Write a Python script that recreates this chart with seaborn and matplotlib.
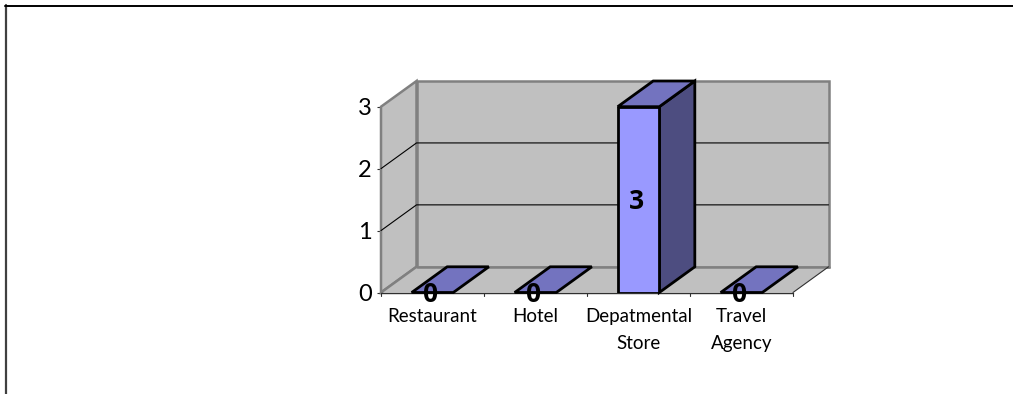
import matplotlib
matplotlib.use("Agg")
import matplotlib.pyplot as plt
from matplotlib.patches import Polygon
from matplotlib.lines import Line2D
import seaborn as sns
import pandas as pd

categories = ["Restaurant", "Hotel", "Depatmental\nStore", "Travel\nAgency"]
values = [0, 0, 3, 0]
y_ticks = [0, 1, 2, 3]

W, H = 1013, 394
sns.set_theme(style="white")
plt.rcParams["font.family"] = ["Lato", "DejaVu Sans"]

fig = plt.figure(figsize=(W / 100, H / 100), dpi=100)
fig.patch.set_facecolor("white")
L, R, B, T = 381, 793, 292.5, 106.7
ax = fig.add_axes([L / W, 1 - B / H, (R - L) / W, (B - T) / H])

df = pd.DataFrame({"category": categories, "value": values})
BAR_W = 0.404
sns.barplot(data=df, x="category", y="value", ax=ax, width=BAR_W, color="#9999FF",
            saturation=1, edgecolor="black", linewidth=2, zorder=5)
ax.set_xlim(-0.5, len(categories) - 0.5)
ax.set_ylim(0, 3)
ax.set_xlabel("")
ax.set_ylabel("")
ax.patch.set_alpha(0)
for s in ax.spines.values():
    s.set_visible(False)

# depth expressed in data units
DX = 35.5 / ((R - L) / 4)
DY = 25.7 / ((B - T) / 3)
x0, x1 = -0.5, len(categories) - 0.5
ymax = max(y_ticks)
WALL = "#C0C0C0"
EDGE = "#808080"

def poly(pts, fc, ec, lw, z):
    ax.add_patch(Polygon(pts, closed=True, facecolor=fc, edgecolor=ec, linewidth=lw,
                         zorder=z, clip_on=False, joinstyle="miter"))

# back wall, left wall, floor
poly([(x0 + DX, DY), (x1 + DX, DY), (x1 + DX, ymax + DY), (x0 + DX, ymax + DY)], WALL, EDGE, 1.8, 1)
poly([(x0, 0), (x0 + DX, DY), (x0 + DX, ymax + DY), (x0, ymax)], WALL, EDGE, 1.8, 1)
poly([(x0, 0), (x1, 0), (x1 + DX, DY), (x0 + DX, DY)], WALL, "none", 0, 1.5)
ax.add_line(Line2D([x0, x0 + DX], [0, DY], color=EDGE, lw=1.8, zorder=2, clip_on=False))
ax.add_line(Line2D([x0 + DX, x1 + DX], [DY, DY], color=EDGE, lw=1.8, zorder=2, clip_on=False))
ax.add_line(Line2D([x1, x1 + DX], [0, DY], color="#303030", lw=0.8, zorder=2, clip_on=False))
ax.add_line(Line2D([x0, x1], [0, 0], color="#303030", lw=1.0, zorder=2, clip_on=False))

# gridlines on walls
for t in y_ticks[1:-1]:
    ax.add_line(Line2D([x0, x0 + DX, x1 + DX], [t, t + DY, t + DY], color="black", lw=0.8,
                       zorder=2, clip_on=False))

# bar sides and tops
for i, v in enumerate(values):
    a, b = i - BAR_W / 2, i + BAR_W / 2
    if v > 0:
        poly([(b, 0), (b + DX, DY), (b + DX, v + DY), (b, v)], "#4D4D80", "black", 2, 4)
    poly([(a, v), (b, v), (b + DX, v + DY), (a + DX, v + DY)], "#7373BF", "black", 2, 4)
    ypos = v / 2 - 0.035 if v > 0 else -0.03
    ax.text(i - 0.02, ypos, str(v), ha="center", va="center", fontsize=19,
            fontweight="bold", family="Open Sans", color="black", zorder=8, clip_on=False)

# ticks
ax.set_yticks(y_ticks)
ax.set_yticklabels([str(t) for t in y_ticks], fontsize=17, color="black")
ax.set_xticks(range(len(categories)))
ax.set_xticklabels(categories, fontsize=13.5, color="black", linespacing=1.65)
ax.tick_params(axis="y", length=3, width=0.8, color="#303030", pad=3.5, left=True)
ax.tick_params(axis="x", length=0, pad=11.5)
for b in range(len(categories) + 1):
    ax.add_line(Line2D([b - 0.5, b - 0.5], [0, -3.5 / ((B - T) / 3)], color="#303030", lw=0.8,
                       zorder=2, clip_on=False))

# outer frame of the slide crop
fig.add_artist(Line2D([6 / W, 6 / W], [0, 1 - 5 / H], color="#404040", lw=1.6))
fig.add_artist(Line2D([5 / W, 1], [1 - 6 / H, 1 - 6 / H], color="black", lw=1.4))

fig.savefig("out.png", dpi=100)
